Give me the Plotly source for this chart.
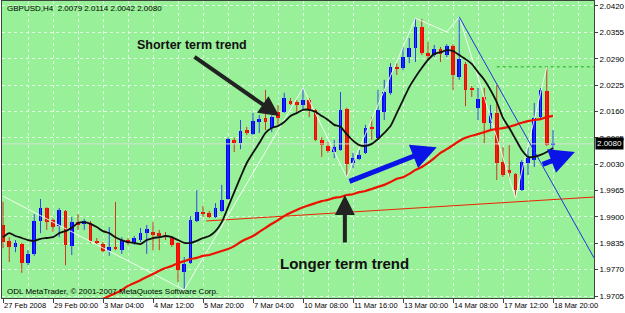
import plotly.graph_objects as go

# ---------------- data ----------------
bar_index = list(range(89))
opens = [1.9880, 1.9841, 1.9826, 1.9833, 1.9786, 1.9809, 1.9890, 1.9922, 1.9892, 1.9878,
         1.9915, 1.9828, 1.9887, 1.9883, 1.9885, 1.9841, 1.9833, 1.9816, 1.9823, 1.9818,
         1.9843, 1.9836, 1.9843, 1.9860, 1.9863, 1.9860, 1.9855, 1.9848, 1.9836, 1.9764,
         1.9786, 1.9890, 1.9912, 1.9910, 1.9900, 1.9915, 1.9944, 2.0090, 2.0082, 2.0114,
         2.0104, 2.0134, 2.0144, 2.0119, 2.0159, 2.0159, 2.0186, 2.0183, 2.0176, 2.0188,
         2.0164, 2.0090, 2.0075, 2.0060, 2.0065, 2.0166, 2.0033, 2.0043, 2.0058, 2.0119,
         2.0095, 2.0159, 2.0206, 2.0270, 2.0267, 2.0294, 2.0316, 2.0368, 2.0304, 2.0299,
         2.0314, 2.0299, 2.0321, 2.0245, 2.0277, 2.0218, 2.0169, 2.0196, 2.0132, 2.0156,
         2.0035, 2.0016, 2.0006, 1.9966, 2.0033, 2.0040, 2.0146, 2.0210, 2.0079]
highs = [1.9937, 1.9850, 1.9843, 1.9836, 1.9818, 1.9907, 1.9944, 1.9924, 1.9897, 1.9922,
         1.9917, 1.9900, 1.9907, 1.9895, 1.9890, 1.9848, 1.9838, 1.9875, 1.9937, 1.9850,
         1.9848, 1.9853, 1.9873, 1.9880, 1.9887, 1.9868, 1.9863, 1.9853, 1.9838, 1.9801,
         1.9902, 1.9966, 1.9927, 1.9915, 1.9934, 1.9979, 2.0095, 2.0095, 2.0139, 2.0122,
         2.0156, 2.0151, 2.0213, 2.0151, 2.0176, 2.0206, 2.0193, 2.0188, 2.0218, 2.0193,
         2.0166, 2.0097, 2.0085, 2.0090, 2.0208, 2.0169, 2.0058, 2.0065, 2.0127, 2.0146,
         2.0213, 2.0238, 2.0279, 2.0279, 2.0319, 2.0341, 2.0390, 2.0388, 2.0331, 2.0324,
         2.0319, 2.0326, 2.0326, 2.0393, 2.0282, 2.0223, 2.0218, 2.0218, 2.0176, 2.0225,
         2.0072, 2.0077, 2.0008, 2.0040, 2.0072, 2.0181, 2.0218, 2.0270, 2.0114]
lows = [1.9823, 1.9789, 1.9813, 1.9762, 1.9781, 1.9804, 1.9860, 1.9868, 1.9863, 1.9850,
        1.9781, 1.9806, 1.9868, 1.9868, 1.9836, 1.9831, 1.9813, 1.9804, 1.9818, 1.9809,
        1.9831, 1.9831, 1.9838, 1.9809, 1.9818, 1.9818, 1.9843, 1.9826, 1.9740, 1.9720,
        1.9784, 1.9887, 1.9900, 1.9897, 1.9897, 1.9912, 1.9942, 2.0060, 2.0067, 2.0102,
        2.0102, 2.0107, 2.0114, 2.0109, 2.0127, 2.0156, 2.0176, 2.0156, 2.0164, 2.0146,
        2.0087, 2.0048, 2.0058, 2.0045, 2.0063, 1.9998, 2.0021, 2.0040, 2.0055, 2.0090,
        2.0090, 2.0139, 2.0201, 2.0250, 2.0262, 2.0279, 2.0282, 2.0299, 2.0287, 2.0294,
        2.0282, 2.0294, 2.0213, 2.0238, 2.0173, 2.0196, 2.0139, 2.0082, 2.0114, 1.9991,
        1.9998, 1.9996, 1.9947, 1.9964, 2.0003, 2.0023, 2.0139, 2.0075, 2.0042]
closes = [1.9838, 1.9826, 1.9836, 1.9786, 1.9809, 1.9890, 1.9922, 1.9887, 1.9875, 1.9917,
          1.9831, 1.9887, 1.9880, 1.9890, 1.9841, 1.9836, 1.9816, 1.9826, 1.9821, 1.9843,
          1.9836, 1.9848, 1.9860, 1.9870, 1.9855, 1.9853, 1.9850, 1.9831, 1.9769, 1.9784,
          1.9892, 1.9912, 1.9907, 1.9900, 1.9922, 1.9942, 2.0092, 2.0082, 2.0112, 2.0107,
          2.0136, 2.0141, 2.0134, 2.0146, 2.0144, 2.0193, 2.0178, 2.0176, 2.0188, 2.0164,
          2.0090, 2.0077, 2.0063, 2.0072, 2.0164, 2.0030, 2.0045, 2.0053, 2.0119, 2.0117,
          2.0164, 2.0208, 2.0270, 2.0265, 2.0294, 2.0316, 2.0368, 2.0304, 2.0297, 2.0314,
          2.0302, 2.0321, 2.0250, 2.0289, 2.0213, 2.0213, 2.0191, 2.0132, 2.0156, 2.0033,
          2.0003, 2.0008, 1.9966, 2.0035, 2.0045, 2.0144, 2.0213, 2.0077, 2.0080]

ma_short = [1.9850, 1.9860, 1.9853, 1.9848, 1.9843, 1.9841, 1.9846, 1.9848, 1.9850, 1.9860,
            1.9865, 1.9873, 1.9885, 1.9887, 1.9883, 1.9875, 1.9865, 1.9860, 1.9850, 1.9843,
            1.9838, 1.9836, 1.9833, 1.9843, 1.9848, 1.9850, 1.9853, 1.9850, 1.9843, 1.9836,
            1.9836, 1.9841, 1.9848, 1.9853, 1.9865, 1.9887, 1.9924, 1.9961, 1.9998, 2.0033,
            2.0058, 2.0082, 2.0107, 2.0119, 2.0124, 2.0134, 2.0149, 2.0156, 2.0164, 2.0164,
            2.0159, 2.0149, 2.0139, 2.0127, 2.0122, 2.0104, 2.0088, 2.0077, 2.0075, 2.0080,
            2.0092, 2.0107, 2.0124, 2.0156, 2.0188, 2.0220, 2.0245, 2.0267, 2.0287, 2.0302,
            2.0306, 2.0311, 2.0309, 2.0299, 2.0289, 2.0277, 2.0257, 2.0238, 2.0213, 2.0183,
            2.0144, 2.0119, 2.0092, 2.0065, 2.0048, 2.0048, 2.0053, 2.0060, 2.0070]
ma_long = [None] * 16 + [
            1.9698, 1.9705, 1.9712, 1.9720, 1.9730, 1.9737, 1.9744, 1.9752, 1.9759, 1.9767,
            1.9774, 1.9779, 1.9786, 1.9791, 1.9796, 1.9799, 1.9804, 1.9806, 1.9811, 1.9816,
            1.9821, 1.9828, 1.9838, 1.9846, 1.9853, 1.9863, 1.9873, 1.9883, 1.9892, 1.9902,
            1.9910, 1.9917, 1.9924, 1.9929, 1.9934, 1.9939, 1.9942, 1.9947, 1.9949, 1.9954,
            1.9956, 1.9961, 1.9964, 1.9969, 1.9974, 1.9979, 1.9986, 1.9994, 1.9998, 2.0006,
            2.0016, 2.0023, 2.0033, 2.0045, 2.0058, 2.0067, 2.0077, 2.0087, 2.0095, 2.0100,
            2.0104, 2.0109, 2.0114, 2.0117, 2.0119, 2.0122, 2.0127, 2.0132, 2.0136, 2.0139,
            2.0141, 2.0146, 2.0149]

x_tick_index = [0, 8, 16, 24, 32, 40, 48, 56, 64, 72, 80, 88]
x_tick_labels = ["27 Feb 2008", "29 Feb 00:00", "3 Mar 04:00", "4 Mar 12:00", "5 Mar 20:00",
                 "7 Mar 04:00", "10 Mar 08:00", "11 Mar 16:00", "13 Mar 00:00", "14 Mar 08:00",
                 "17 Mar 12:00", "18 Mar 20:00"]
x_grid_index = [4, 12, 20, 28, 36, 44, 52, 60, 68, 76, 84, 92]
y_ticks = [1.9705, 1.9770, 1.9835, 1.9900, 1.9965, 2.0030, 2.0095, 2.0160, 2.0225, 2.0290,
           2.0355, 2.0420]
y_tick_labels = ["%.4f" % v for v in y_ticks]

zigzag_index = [0, 29, 48, 55, 66, 71, 73, 82, 87]
zigzag_price = [1.9951, 1.9720, 2.0218, 1.9998, 2.0390, 2.0356, 2.0393, 1.9947, 2.0270]

blue_trend_index = [73, 94.56]
blue_trend_price = [2.0393, 1.9799]
red_trend_index = [32.5, 94.56]
red_trend_price = [1.9890, 1.9949]
level_index = [79, 94.56]
level_price = [2.0270, 2.0270]
bid_price = 2.0080

title_text = "GBPUSD,H4  2.0079 2.0114 2.0042 2.0080"
copyright_text = "ODL MetaTrader, \u00a9 2001-2007 MetaQuotes Software Corp."
short_label = "Shorter term trend"
long_label = "Longer term trend"

# ---------------- styling ----------------
BG = "#98F098"
GRID = "rgba(235,255,235,0.85)"
FRAME = "#3c463c"
UP = "#0000FF"
DOWN = "#FF0000"
UP_WICK = "#3048e8"
DOWN_WICK = "#cc3a1e"
FONT = "Liberation Sans"
X_RANGE = [-0.16, 94.56]
Y_RANGE = [1.97001, 2.04323]

fig = go.Figure()

# wicks
for is_up, col in ((True, UP_WICK), (False, DOWN_WICK)):
    xs, ys = [], []
    for i, o, h, l, c in zip(bar_index, opens, highs, lows, closes):
        if (c >= o) == is_up:
            xs += [i, i, None]
            ys += [l, h, None]
    fig.add_trace(go.Scatter(x=xs, y=ys, mode="lines", line=dict(color=col, width=1),
                             hoverinfo="skip", showlegend=False))

# bodies
min_body = 0.00025
body_base = [min(o, c) for o, c in zip(opens, closes)]
body_h = [max(abs(c - o), min_body) for o, c in zip(opens, closes)]
body_col = [UP if c >= o else DOWN for o, c in zip(opens, closes)]
fig.add_trace(go.Bar(x=bar_index, y=body_h, base=body_base, width=0.62,
                     marker=dict(color=body_col, line=dict(width=0)),
                     hoverinfo="skip", showlegend=False))

# bid line
fig.add_trace(go.Scatter(x=X_RANGE, y=[bid_price, bid_price], mode="lines",
                         line=dict(color="#d4e4d4", width=1), hoverinfo="skip", showlegend=False))
# level line
fig.add_trace(go.Scatter(x=level_index, y=level_price, mode="lines",
                         line=dict(color="#22aa22", width=1, dash="3px,3px"),
                         hoverinfo="skip", showlegend=False))
# thin red trend line
fig.add_trace(go.Scatter(x=red_trend_index, y=red_trend_price, mode="lines",
                         line=dict(color="#ee2200", width=1), hoverinfo="skip", showlegend=False))
# zigzag
fig.add_trace(go.Scatter(x=zigzag_index, y=zigzag_price, mode="lines",
                         line=dict(color="rgba(255,255,255,0.9)", width=1),
                         hoverinfo="skip", showlegend=False))
# blue trend line
fig.add_trace(go.Scatter(x=blue_trend_index, y=blue_trend_price, mode="lines",
                         line=dict(color="#2233dd", width=1), hoverinfo="skip", showlegend=False))
# moving averages
fig.add_trace(go.Scatter(x=bar_index, y=ma_long, mode="lines",
                         line=dict(color="#ee1100", width=2.2, shape="spline", smoothing=0.6),
                         hoverinfo="skip", showlegend=False, connectgaps=False))
fig.add_trace(go.Scatter(x=bar_index, y=ma_short, mode="lines",
                         line=dict(color="#111111", width=1.8, shape="spline", smoothing=0.6),
                         hoverinfo="skip", showlegend=False))

annotations = []
# arrows
arrow_specs = [
    # (tail_x, tail_y, head_x, head_y, color, width)
    (55.2, 1.9986, 69.4, 2.0072, "#0a14e6", 5),
    (86.1, 2.0028, 91.5, 2.0060, "#0a14e6", 5),
    (30.4, 2.0297, 44.2, 2.0149, "#222222", 4),
    (54.7, 1.9833, 54.7, 1.9954, "#222222", 4),
]
for tx, ty, hx, hy, col, w in arrow_specs:
    annotations.append(dict(x=hx, y=hy, ax=tx, ay=ty, xref="x", yref="y", axref="x", ayref="y",
                            text="", showarrow=True, arrowhead=2, arrowsize=1.0,
                            arrowwidth=w, arrowcolor=col))
annotations += [
    dict(x=30.2, y=2.0324, xref="x", yref="y", text=short_label, showarrow=False,
         font=dict(family=FONT, size=12.5, color="#111111", weight="bold")),
    dict(x=54.7, y=1.9786, xref="x", yref="y", text=long_label, showarrow=False,
         font=dict(family=FONT, size=15, color="#111111", weight="bold")),
    dict(x=0, y=1, xref="paper", yref="paper", xanchor="left", yanchor="top",
         xshift=3, yshift=-1, text=title_text, showarrow=False,
         font=dict(family=FONT, size=8, color="#000000")),
    dict(x=0, y=0, xref="paper", yref="paper", xanchor="left", yanchor="bottom",
         xshift=3, yshift=0, text=copyright_text, showarrow=False,
         font=dict(family=FONT, size=8, color="#000000")),
    dict(x=1, y=bid_price, xref="paper", yref="y", xanchor="left", yanchor="middle",
         xshift=1, text="%.4f" % bid_price, showarrow=False, bgcolor="#000000",
         borderpad=1, font=dict(family=FONT, size=8, color="#ffffff")),
]

fig.update_layout(
    width=625, height=313,
    margin=dict(l=2, r=31, t=1, b=15, pad=0, autoexpand=False),
    paper_bgcolor="#ffffff", plot_bgcolor=BG,
    showlegend=False, hovermode=False, bargap=0,
    annotations=annotations,
    font=dict(family=FONT, size=8, color="#000000"),
    xaxis=dict(range=X_RANGE, showline=True, linecolor=FRAME, linewidth=1, mirror=True,
               tickmode="array", tickvals=x_tick_index, ticktext=x_tick_labels,
               tickangle=0, automargin=False,
               ticks="outside", ticklen=4, tickcolor=FRAME, ticklabelposition="outside right",
               tickfont=dict(family=FONT, size=7.5, color="#000000"),
               showgrid=True, gridcolor=GRID, griddash="3px,3px", gridwidth=1,
               minor=dict(tickmode="array", tickvals=x_grid_index, showgrid=True,
                          gridcolor=GRID, griddash="3px,3px", ticks=""),
               zeroline=False, fixedrange=True),
    yaxis=dict(range=Y_RANGE, side="right", showline=True, linecolor=FRAME, linewidth=1,
               mirror=True, tickmode="array", tickvals=y_ticks, ticktext=y_tick_labels,
               automargin=False,
               ticks="outside", ticklen=3, tickcolor=FRAME,
               tickfont=dict(family=FONT, size=8, color="#000000"),
               showgrid=True, gridcolor=GRID, griddash="3px,3px", gridwidth=1,
               zeroline=False, fixedrange=True),
)

fig.write_html("out.html")
